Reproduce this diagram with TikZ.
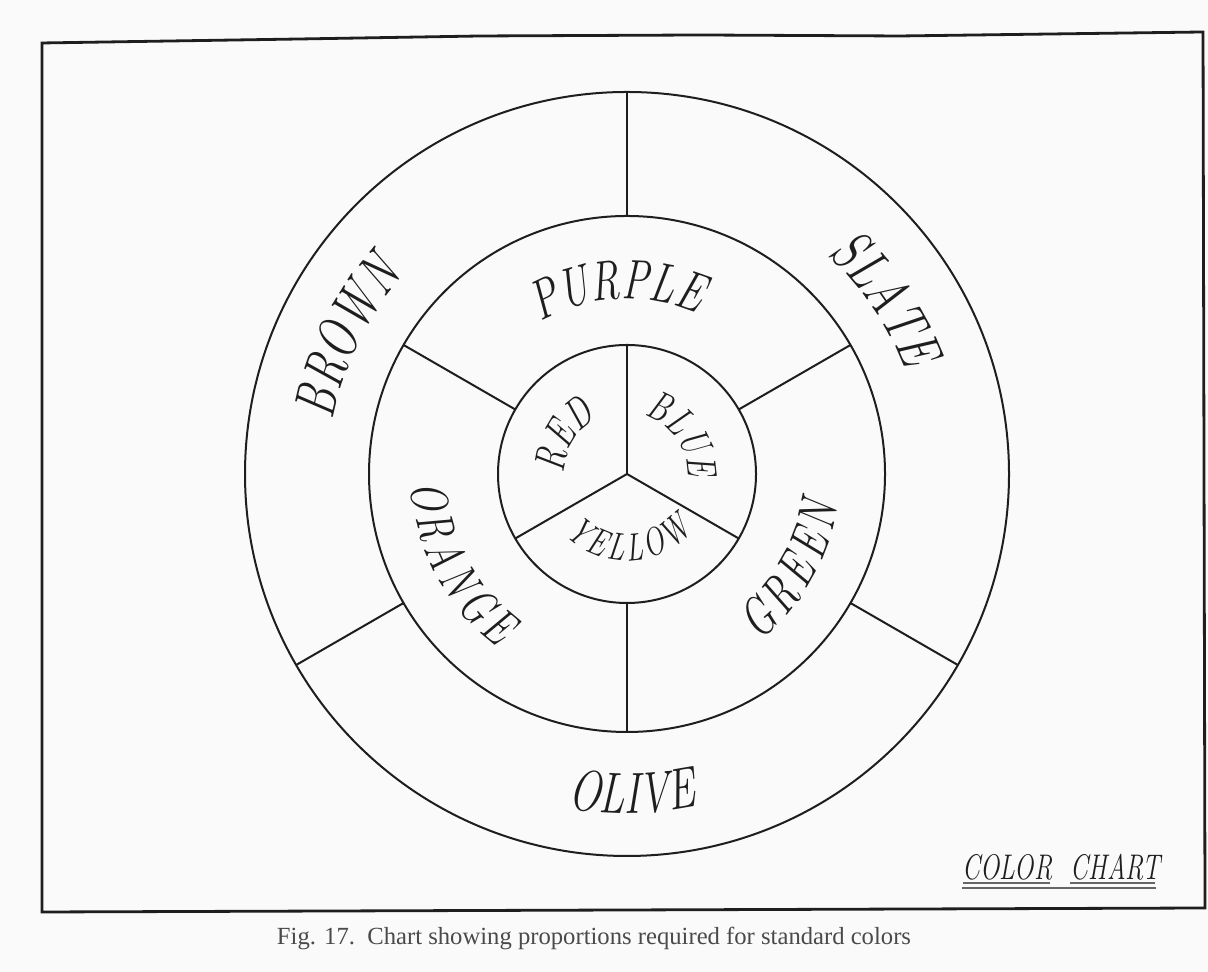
\documentclass[tikz,border=0pt]{standalone}
\usepackage{fontspec}
\usepackage{graphicx}
\usetikzlibrary{decorations.text,calc}
\newfontfamily\hand{lmroman12-italic.otf}[FakeStretch=0.72]
\newfontfamily\handsp{lmroman12-italic.otf}[FakeStretch=0.72,WordSpace=0.43]
\newfontfamily\capfont{Liberation Serif}
\definecolor{ink}{HTML}{1E1E1E}
\definecolor{paper}{HTML}{FAFAFA}
\definecolor{capgray}{HTML}{4A4A4A}
\definecolor{ulgray}{HTML}{666666}
% #1 text, #2 font switch, #3 size, #4 baseline radius, #5 start angle, #6 end angle
\newcommand\ringlabel[6]{%
  \path[decorate,decoration={text along path,text align=center,text color=ink,
    text={|#2\fontsize{#3}{#3}\selectfont|#1}}]
    ($(C)+(#5:#4)$) arc[start angle=#5,end angle=#6,radius=#4];}
\begin{document}
\begin{tikzpicture}[x=0.5pt,y=0.5pt,
  ring/.style={draw=ink,line width=1pt},
  spoke/.style={draw=ink,line width=1pt},
  frameline/.style={draw=ink,line width=1.4pt,line join=miter},
  uline/.style={draw=ulgray,line width=0.6pt}]
\path[fill=paper] (0,0) rectangle (1208,972);
\useasboundingbox (0,0) rectangle (1208,972);
\coordinate (C) at (627,498);
% frame
\draw[frameline] (42,929) -- (300,933) -- (480,936) -- (700,937) -- (900,936)
  -- (1203,940) -- (1205,64) -- (42,60) -- cycle;
% circles
\draw[ring] (C) circle[radius=382];
\draw[ring] (C) circle[radius=258];
\draw[ring] (C) circle[radius=129];
% inner spokes
\foreach \a in {90,210,330} \draw[spoke] (C) -- ($(C)+(\a:129)$);
% middle spokes
\foreach \a in {30,150,270} \draw[spoke] ($(C)+(\a:129)$) -- ($(C)+(\a:258)$);
% outer spokes
\foreach \a in {90,210,330} \draw[spoke] ($(C)+(\a:258)$) -- ($(C)+(\a:382)$);
% labels, middle ring
\ringlabel{PURPLE}{\hand}{28}{175}{133}{53}
\ringlabel{O R A N G E}{\handsp}{26}{216}{163}{253}
\ringlabel{G R E E N}{\handsp}{27}{213}{285}{375}
% labels, outer ring
\ringlabel{BROWN}{\hand}{29.5}{299}{194}{114}
\ringlabel{SLATE}{\hand}{30}{297}{74}{-6}
\ringlabel{OLIVE}{\hand}{29}{339}{241}{301}
% labels, inner circle
\ringlabel{RED}{\hand}{22}{63}{209}{89}
\ringlabel{BLUE}{\hand}{21}{61}{100}{-30}
\ringlabel{Y E L L O W}{\handsp}{19.5}{87}{197}{347}
% colour chart title
\node[text=ink,anchor=base,inner sep=0pt] (chart) at (1061,92)
  {\hand\fontsize{17.8}{20}\selectfont COLOR\hspace{9pt}CHART};
\draw[uline] (963,89) -- (1050,89);
\draw[uline] (1070,89) -- (1155,89);
\draw[uline] (962,84) -- (1156,84);
% caption
\node[text=capgray,inner sep=0pt] (caption) at (594,34)
  {\resizebox{317pt}{!}{\capfont Fig. 17.\enspace Chart showing proportions required for standard colors}};
\end{tikzpicture}
\end{document}
